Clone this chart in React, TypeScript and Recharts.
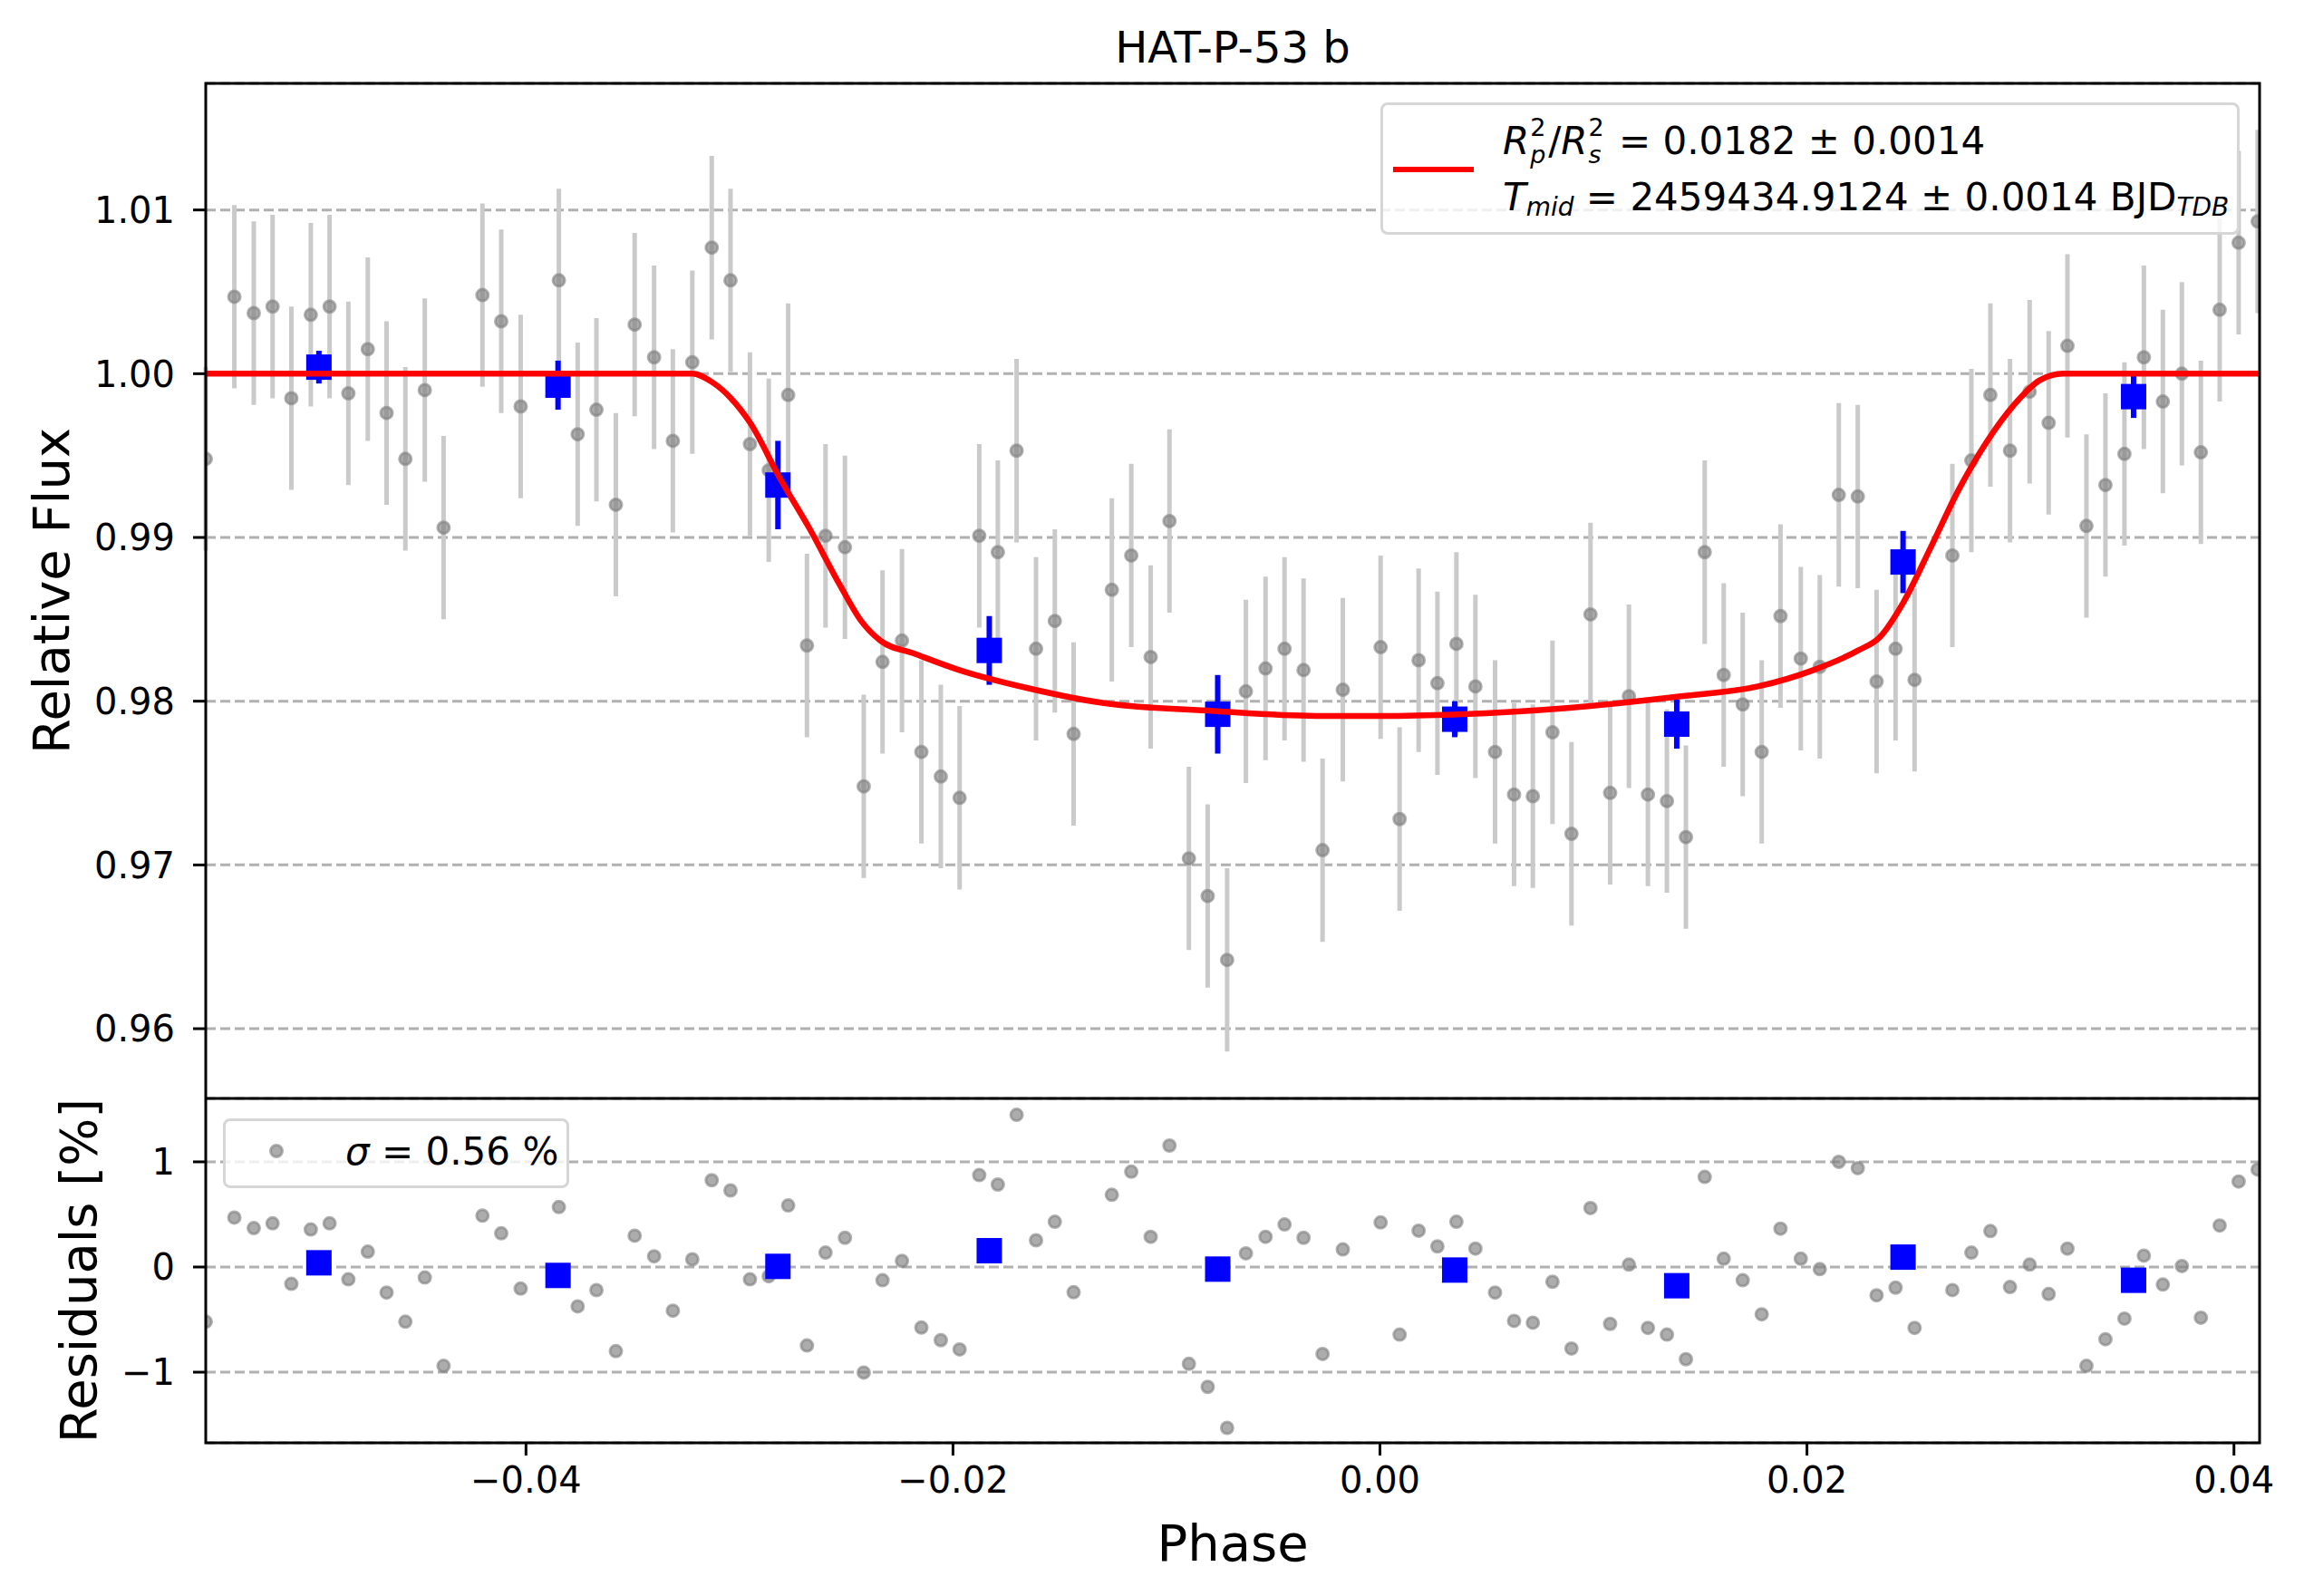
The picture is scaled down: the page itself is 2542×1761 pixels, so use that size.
import React from 'react'
import {
  CartesianGrid,
  ComposedChart,
  ErrorBar,
  Label,
  Legend,
  Line,
  ReferenceArea,
  Scatter,
  XAxis,
  YAxis,
} from 'recharts'

const FONT = '"DejaVu Sans", sans-serif'

// unbinned points: phase, relative flux and residual (%)
const PHASE = [
  -0.055, -0.05366, -0.05275, -0.05187, -0.05099, -0.05008, -0.0492, -0.04832, -0.04741, -0.04653,
  -0.04565, -0.04474, -0.04386, -0.04204, -0.04116, -0.04025, -0.03846, -0.03758, -0.0367, -0.03579,
  -0.03491, -0.034, -0.03312, -0.03221, -0.0313, -0.03042, -0.02951, -0.02863, -0.02772, -0.02684,
  -0.02597, -0.02506, -0.02418, -0.0233, -0.02239, -0.02148, -0.02057, -0.01969, -0.01877, -0.0179,
  -0.01702, -0.01611, -0.01523, -0.01435, -0.01256, -0.01165, -0.01074, -0.00986, -0.00895, -0.00807,
  -0.00716, -0.00628, -0.00536, -0.00447, -0.00358, -0.00269, -0.00174, 0.00003, 0.00092, 0.00181,
  0.00269, 0.00358, 0.00447, 0.00539, 0.00628, 0.00716, 0.00808, 0.00897, 0.00986, 0.01078,
  0.01166, 0.01255, 0.01344, 0.01433, 0.01521, 0.0161, 0.01699, 0.01788, 0.01876, 0.01971,
  0.0206, 0.02149, 0.02238, 0.02326, 0.02415, 0.02504, 0.02681, 0.0277, 0.02859, 0.02951,
  0.03043, 0.03132, 0.0322, 0.03309, 0.03398, 0.03487, 0.03578, 0.03667, 0.03756, 0.03845,
  0.03933, 0.04022, 0.04111,
]
const FLUX = [
  0.9948, 1.0047, 1.0037, 1.0041, 0.9985, 1.0036, 1.0041, 0.9988, 1.0015, 0.9976,
  0.9948, 0.999, 0.9906, 1.0048, 1.0032, 0.998, 1.0057, 0.9963, 0.9978, 0.992,
  1.003, 1.001, 0.9959, 1.0007, 1.0077, 1.0057, 0.9957, 0.9941, 0.9987, 0.9834,
  0.9901, 0.9894, 0.9748, 0.9824, 0.9837, 0.9769, 0.9754, 0.9741, 0.9901, 0.9891,
  0.9953, 0.9832, 0.9849, 0.978, 0.9868, 0.9889, 0.9827, 0.991, 0.9704, 0.9681,
  0.9642, 0.9806, 0.982, 0.9832, 0.9819, 0.9709, 0.9807, 0.9833, 0.9728, 0.9825,
  0.9811, 0.9835, 0.9809, 0.9769, 0.9743, 0.9742, 0.9781, 0.9719, 0.9853, 0.9744,
  0.9803, 0.9743, 0.9739, 0.9717, 0.9891, 0.9816, 0.9798, 0.9769, 0.9852, 0.9826,
  0.9821, 0.9926, 0.9925, 0.9812, 0.9832, 0.9813, 0.9889, 0.9947, 0.9987, 0.9953,
  0.9989, 0.997, 1.0017, 0.9907, 0.9932, 0.9951, 1.001, 0.9983, 1.0, 0.9952,
  1.0039, 1.008, 1.0093,
]
const FLUX_ERR = 0.0056
const RESIDUAL = [
  -0.52, 0.47, 0.37, 0.415, -0.16, 0.357, 0.415, -0.117, 0.146, -0.243,
  -0.52, -0.1, -0.94, 0.488, 0.32, -0.205, 0.57, -0.374, -0.22, -0.8,
  0.298, 0.102, -0.415, 0.073, 0.825, 0.728, -0.117, -0.088, 0.585, -0.746,
  0.137, 0.278, -1.003, -0.126, 0.058, -0.576, -0.696, -0.784, 0.874, 0.784,
  1.447, 0.254, 0.43, -0.24, 0.687, 0.906, 0.287, 1.155, -0.921, -1.14,
  -1.53, 0.13, 0.287, 0.404, 0.278, -0.827, 0.167, 0.424, -0.643, 0.345,
  0.196, 0.43, 0.175, -0.243, -0.512, -0.529, -0.14, -0.775, 0.561, -0.541,
  0.023, -0.579, -0.643, -0.877, 0.857, 0.079, -0.126, -0.45, 0.365, 0.079,
  -0.02, 1.0, 0.94, -0.269, -0.196, -0.579, -0.219, 0.137, 0.342, -0.19,
  0.023, -0.257, 0.175, -0.94, -0.687, -0.491, 0.108, -0.167, 0.009, -0.482,
  0.395, 0.813, 0.927,
]

// binned points (blue squares)
const BIN_PHASE = [-0.0497, -0.0385, -0.0282, -0.0183, -0.0076, 0.0035, 0.0139, 0.0245, 0.0353]
const BIN_FLUX = [1.0004, 0.9993, 0.9932, 0.9831, 0.9792, 0.9789, 0.9786, 0.9885, 0.9986]
const BIN_FLUX_ERR = [0.001, 0.0015, 0.0027, 0.0021, 0.0024, 0.0011, 0.0015, 0.0019, 0.0013]
const BIN_RESIDUAL = [0.04, -0.08, 0.006, 0.155, -0.02, -0.029, -0.178, 0.094, -0.126]

// transit model (red line), sampled off the curve
const MODEL_PHASE = [
  -0.055, -0.0322, -0.0313, -0.0304, -0.0295, -0.0281, -0.0267, -0.0253, -0.0243, -0.0234,
  -0.0218, -0.0197, -0.0165, -0.013, -0.0078, -0.003, 0.0001, 0.0036, 0.0089, 0.0141,
  0.0177, 0.0203, 0.0224, 0.0234, 0.0245, 0.0258, 0.0271, 0.0284, 0.0297, 0.0309,
  0.032, 0.0412,
]
const MODEL_FLUX = [
  1.0, 1.0, 0.9995, 0.9985, 0.997, 0.9936, 0.9905, 0.9871, 0.9849, 0.9837,
  0.9829, 0.9819, 0.9808, 0.9799, 0.9794, 0.9791, 0.9791, 0.9792, 0.9796, 0.9803,
  0.9809, 0.9819, 0.9831, 0.9839, 0.986, 0.9894, 0.9929, 0.9958, 0.9981, 0.9996,
  1.0, 1.0,
]

const X_TICKS = [-0.04, -0.02, 0, 0.02, 0.04]
const FLUX_TICKS = [0.96, 0.97, 0.98, 0.99, 1.0, 1.01]
const RESID_TICKS = [-1, 0, 1]

const X_DOMAIN: [number, number] = [-0.055, 0.0412]
const FLUX_DOMAIN: [number, number] = [0.95574, 1.01773]
const RESID_DOMAIN: [number, number] = [-1.672, 1.603]

const fluxPoints = PHASE.map((x, i) => ({ x, y: FLUX[i], err: FLUX_ERR }))
const residPoints = PHASE.map((x, i) => ({ x, y: RESIDUAL[i] }))
const binPoints = BIN_PHASE.map((x, i) => ({ x, y: BIN_FLUX[i], err: BIN_FLUX_ERR[i] }))
const binResidPoints = BIN_PHASE.map((x, i) => ({ x, y: BIN_RESIDUAL[i] }))
const modelPoints = MODEL_PHASE.map((x, i) => ({ x, y: MODEL_FLUX[i] }))

const minus = (s: string) => s.replace('-', '\u2212')

const tickStyle = { fill: '#000', fontSize: 40, fontFamily: FONT }
const tickLine = { stroke: '#000', strokeWidth: 3 }
const gridProps = { vertical: false, stroke: '#b0b0b0', strokeWidth: 3, strokeDasharray: '11 5' }

const GreyDot = (props: any) => (
  <circle
    cx={props.cx}
    cy={props.cy}
    r={6.5}
    fill="#808080"
    fillOpacity={0.65}
    stroke="#808080"
    strokeOpacity={0.6}
    strokeWidth={3}
  />
)

const BlueSquare = (props: any) => (
  <rect x={props.cx - 14} y={props.cy - 14} width={28} height={28} fill="#0000ff" />
)

const legendBox: React.CSSProperties = {
  position: 'relative',
  width: '100%',
  height: '100%',
  boxSizing: 'border-box',
  border: '3px solid #d6d6d6',
  borderRadius: 8,
  background: 'rgba(255,255,255,0.8)',
  fontFamily: FONT,
  fontSize: 42,
  color: '#000',
}

const lineText = (top: number): React.CSSProperties => ({
  position: 'absolute',
  left: 132,
  top,
  lineHeight: '42px',
  whiteSpace: 'nowrap',
})

const SubSup = ({ sub, sup }: { sub: string; sup: string }) => (
  <span style={{ position: 'relative', display: 'inline-block', width: 21, height: 0 }}>
    <span style={{ position: 'absolute', left: 1, top: -43, fontSize: 27, lineHeight: '27px' }}>{sup}</span>
    <span style={{ position: 'absolute', left: 1, top: -13, fontSize: 27, lineHeight: '27px', fontStyle: 'italic' }}>
      {sub}
    </span>
  </span>
)

const lowered: React.CSSProperties = { fontSize: 28, fontStyle: 'italic', position: 'relative', top: 6 }

const FitLegend = () => (
  <div style={legendBox}>
    <div style={{ position: 'absolute', left: 11, top: 68, width: 89, height: 6, background: '#ff0000' }} />
    <div style={lineText(19)}>
      <i>R</i>
      <SubSup sub="p" sup="2" />/<i>R</i>
      <SubSup sub="s" sup="2" />
      {' = 0.0182 ± 0.0014'}
    </div>
    <div style={lineText(81)}>
      <i>T</i>
      <span style={lowered}>mid</span>
      {' = 2459434.9124 ± 0.0014 BJD'}
      <span style={lowered}>TDB</span>
    </div>
  </div>
)

const SigmaLegend = () => (
  <div style={legendBox}>
    <svg style={{ position: 'absolute', left: 0, top: 0 }} width={120} height={72}>
      <GreyDot cx={56} cy={33} />
    </svg>
    <div style={lineText(13)}>
      <i>σ</i>
      {' = 0.56 %'}
    </div>
  </div>
)

const yLabel = (text: string, x: number, y: number) => () => (
  <text
    x={x}
    y={y}
    transform={`rotate(-90 ${x} ${y})`}
    textAnchor="middle"
    fontSize={56}
    fontFamily={FONT}
    fill="#000"
  >
    {text}
  </text>
)

const phaseLabel = () => (
  <text x={1360} y={510} textAnchor="middle" fontSize={56} fontFamily={FONT} fill="#000">
    Phase
  </text>
)

export default function App() {
  return (
    <div style={{ position: 'absolute', left: 0, top: 0, width: 2542, height: 1761, background: '#fff' }}>
      <div
        style={{
          position: 'absolute',
          left: 860,
          top: 28,
          width: 1000,
          textAlign: 'center',
          fontFamily: FONT,
          fontSize: 48,
          lineHeight: '48px',
          color: '#000',
        }}
      >
        HAT-P-53 b
      </div>

      <div style={{ position: 'absolute', left: 0, top: 0 }}>
        <ComposedChart width={2542} height={1212} margin={{ top: 92, right: 49, bottom: 0, left: 0 }}>
          <CartesianGrid {...gridProps} />
          <XAxis type="number" dataKey="x" domain={X_DOMAIN} ticks={X_TICKS} allowDataOverflow hide />
          <YAxis
            type="number"
            dataKey="y"
            domain={FLUX_DOMAIN}
            ticks={FLUX_TICKS}
            interval={0}
            allowDataOverflow
            width={227}
            tickSize={14}
            tickMargin={20}
            tick={tickStyle}
            tickLine={tickLine}
            axisLine={false}
            tickFormatter={(v) => Number(v).toFixed(2)}
          >
            <Label content={yLabel('Relative Flux', 76, 652)} />
          </YAxis>
          <Scatter data={fluxPoints} shape={GreyDot} isAnimationActive={false}>
            <ErrorBar dataKey="err" direction="y" width={0} stroke="#cacaca" strokeWidth={5} isAnimationActive={false} />
          </Scatter>
          <Scatter data={binPoints} shape={BlueSquare} isAnimationActive={false}>
            <ErrorBar dataKey="err" direction="y" width={0} stroke="#0000ff" strokeWidth={6} isAnimationActive={false} />
          </Scatter>
          <Line
            data={modelPoints}
            dataKey="y"
            type="monotone"
            stroke="#ff0000"
            strokeWidth={6.5}
            dot={false}
            isAnimationActive={false}
            zIndex={700}
          />
          <ReferenceArea
            x1={X_DOMAIN[0]}
            x2={X_DOMAIN[1]}
            y1={FLUX_DOMAIN[0]}
            y2={FLUX_DOMAIN[1]}
            fill="none"
            stroke="#000"
            strokeWidth={3}
            ifOverflow="visible"
            zIndex={800}
          />
          <Legend
            layout="vertical"
            align="center"
            verticalAlign="middle"
            wrapperStyle={{ left: 1523, top: 113, width: 948, height: 146 }}
            content={FitLegend}
          />
        </ComposedChart>
      </div>

      <div style={{ position: 'absolute', left: 0, top: 1212 }}>
        <ComposedChart width={2542} height={549} margin={{ top: 0, right: 49, bottom: 0, left: 0 }}>
          <CartesianGrid {...gridProps} />
          <XAxis
            type="number"
            dataKey="x"
            domain={X_DOMAIN}
            ticks={X_TICKS}
            interval={0}
            allowDataOverflow
            height={169}
            tickSize={14}
            tickMargin={13}
            tick={tickStyle}
            tickLine={tickLine}
            axisLine={false}
            tickFormatter={(v) => minus(Number(v).toFixed(2))}
          >
            <Label content={phaseLabel} />
          </XAxis>
          <YAxis
            type="number"
            dataKey="y"
            domain={RESID_DOMAIN}
            ticks={RESID_TICKS}
            interval={0}
            allowDataOverflow
            width={227}
            tickSize={14}
            tickMargin={20}
            tick={tickStyle}
            tickLine={tickLine}
            axisLine={false}
            tickFormatter={(v) => minus(String(v))}
          >
            <Label content={yLabel('Residuals [%]', 106, 190)} />
          </YAxis>
          <Scatter data={residPoints} shape={GreyDot} isAnimationActive={false} />
          <Scatter data={binResidPoints} shape={BlueSquare} isAnimationActive={false} />
          <ReferenceArea
            x1={X_DOMAIN[0]}
            x2={X_DOMAIN[1]}
            y1={RESID_DOMAIN[0]}
            y2={RESID_DOMAIN[1]}
            fill="none"
            stroke="#000"
            strokeWidth={3}
            ifOverflow="visible"
            zIndex={800}
          />
          <Legend
            layout="vertical"
            align="center"
            verticalAlign="middle"
            wrapperStyle={{ left: 246, top: 22, width: 382, height: 77 }}
            content={SigmaLegend}
          />
        </ComposedChart>
      </div>
    </div>
  )
}
